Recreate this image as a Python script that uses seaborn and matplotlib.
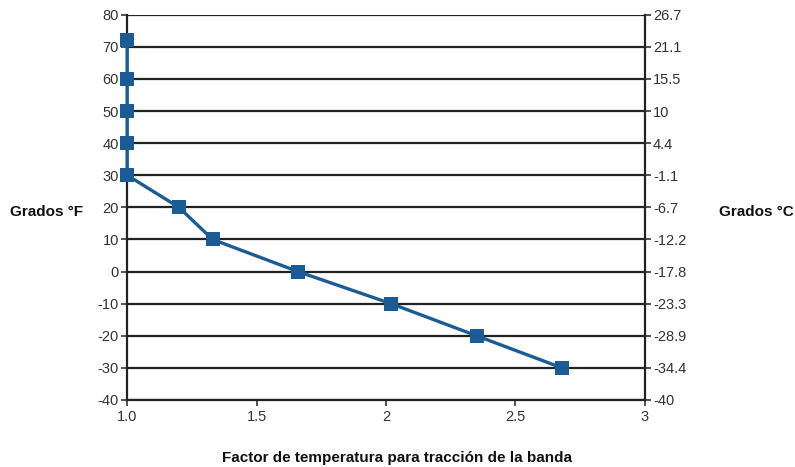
import seaborn as sns
import matplotlib.pyplot as plt
import pandas as pd

# Data
factor = [1.0, 1.0, 1.0, 1.0, 1.0, 1.2, 1.33, 1.66, 2.02, 2.35, 2.68]
temp_f = [72, 60, 50, 40, 30, 20, 10, 0, -10, -20, -30]
f_ticks = [-40, -30, -20, -10, 0, 10, 20, 30, 40, 50, 60, 70, 80]
c_labels = ["-40", "-34.4", "-28.9", "-23.3", "-17.8", "-12.2", "-6.7",
            "-1.1", "4.4", "10", "15.5", "21.1", "26.7"]
x_ticks = [1.0, 1.5, 2.0, 2.5, 3.0]
x_labels = ["1.0", "1.5", "2", "2.5", "3"]

df = pd.DataFrame({"factor": factor, "temp": temp_f})

sns.set_style("white")
plt.rcParams["font.family"] = ["Liberation Sans", "DejaVu Sans"]
plt.rcParams["axes.unicode_minus"] = False

fig = plt.figure(figsize=(7.95, 4.67), dpi=100)
ax = fig.add_axes([0.16, 0.1435, 0.651, 0.825])

# twin axis for the Celsius scale (spines kept on the main axis only)
ax2 = ax.twinx()
ax2.set_ylim(-40, 80)
ax2.set_yticks(f_ticks)
ax2.set_yticklabels(c_labels)
ax2.tick_params(axis="y", labelsize=10.5, colors="#333333", length=4,
                width=1.2, direction="out", right=True, pad=2)
for s in ("top", "left", "bottom"):
    ax2.spines[s].set_visible(False)
ax2.spines["right"].set_color("#222222")
ax2.spines["right"].set_linewidth(1.6)

# put the main axis (with the data) on top of the twin
ax.set_zorder(ax2.get_zorder() + 1)
ax.patch.set_visible(False)

for t in f_ticks:
    ax.axhline(t, color="#222222", lw=1.6, zorder=1)

sns.lineplot(data=df, x="factor", y="temp", sort=False, estimator=None,
             marker="s", color="#1b5b96", lw=2.4, markersize=10.5,
             markeredgewidth=0, ax=ax, zorder=4, clip_on=False)

ax.set_xlim(1.0, 3.0)
ax.set_ylim(-40, 80)
ax.set_xticks(x_ticks)
ax.set_xticklabels(x_labels)
ax.set_yticks(f_ticks)
ax.set_yticklabels([str(t) for t in f_ticks])
ax.set_xlabel("")
ax.set_ylabel("")
ax.tick_params(axis="both", labelsize=10.5, colors="#333333", length=4,
               width=1.2, direction="out", bottom=True, left=True, pad=2)
ax.tick_params(axis="x", pad=3)

ax.spines["top"].set_visible(False)
ax.spines["right"].set_visible(False)
for s in ("left", "bottom"):
    ax.spines[s].set_color("#222222")
    ax.spines[s].set_linewidth(1.6)
    ax.spines[s].set_zorder(2)

lab_font = dict(fontsize=11, fontweight="bold", color="#111111",
                family=["Liberation Sans Narrow", "Liberation Sans", "DejaVu Sans"])
fig.text(0.012, 0.545, "Grados °F", ha="left", va="center", **lab_font)
fig.text(0.905, 0.545, "Grados °C", ha="left", va="center", **lab_font)
fig.text(0.5, 0.02, "Factor de temperatura para tracción de la banda",
         ha="center", va="center", **lab_font)

fig.savefig("out.png", dpi=100, facecolor="white")
